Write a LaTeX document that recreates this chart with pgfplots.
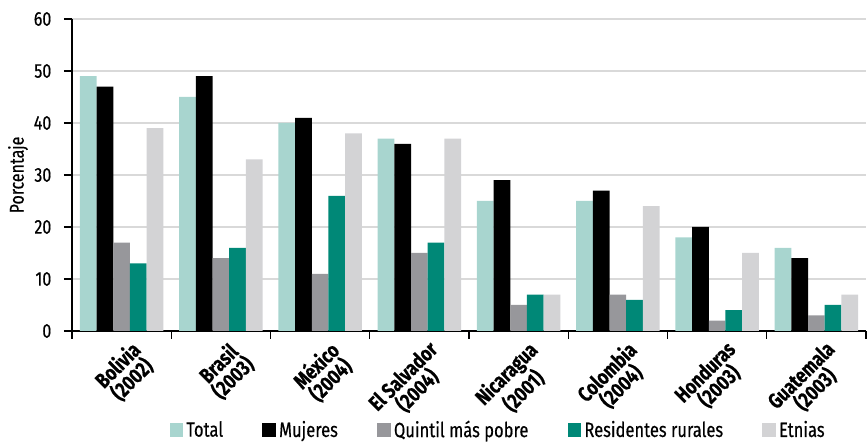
\documentclass[border=0pt]{standalone}
\usepackage{pgfplots}
\pgfplotsset{compat=1.18}
\usepackage{fontspec}
\setmainfont{Fira Sans}[FakeStretch=0.8, FakeBold=0.4]
\definecolor{cTotal}{HTML}{A8D5CF}
\definecolor{cMuj}{HTML}{000000}
\definecolor{cQui}{HTML}{97979B}
\definecolor{cRes}{HTML}{008877}
\definecolor{cEtn}{HTML}{D3D3D5}
\definecolor{cGrid}{HTML}{D9D9D9}
\begin{document}
\begin{tikzpicture}
\path[use as bounding box] (-54pt,-83.25pt) rectangle (597pt,248.25pt);
\begin{axis}[
  scale only axis,
  width=595.5pt, height=234pt,
  ybar=0pt, bar width=0.168,
  xmin=-0.5, xmax=7.5,
  ymin=0, ymax=60,
  ytick={0,10,...,60},
  xtick={0,...,7},
  minor xtick={-0.5,0.5,...,7.5},
  xticklabels={{Bolivia\\(2002)},{Brasil\\(2003)},{México\\(2004)},{El Salvador\\(2004)},{Nicaragua\\(2001)},{Colombia\\(2004)},{Honduras\\(2003)},{Guatemala\\(2003)}},
  xticklabel style={xshift=6pt, yshift=0pt, rotate=45, anchor=north east, align=center, font=\bfseries\fontsize{16}{13.5}\selectfont, inner sep=0pt},
  major x tick style={draw=none},
  minor x tick style={black, thick},
  minor tick length=6pt,
  axis lines*=left,
  axis line style={black, thick},
  ytick style={black, thick},
  tick align=outside,
  major tick length=6pt,
  ymajorgrids, grid style={cGrid, line width=1pt},
  yticklabel style={font=\fontsize{15}{15}\selectfont},
  yticklabel shift=6pt,
  /pgf/number format/assume math mode=true,
  ylabel={Porcentaje},
  every axis y label/.style={at={(rel axis cs:-0.068,0.5)}, rotate=90, anchor=center, font=\fontsize{15}{15}\selectfont},
  legend style={draw=none, at={(0.123,-0.317)}, anchor=west, legend columns=5,
    font=\fontsize{15.5}{15.5}\selectfont, inner sep=0pt, outer sep=0pt,
    nodes={inner sep=2.5pt},
    /tikz/every even column/.append style={column sep=27pt}},
  legend image code/.code={\fill[#1] (0pt,-5pt) rectangle (10pt,5.5pt);},
  clip=false,
]
\addplot[fill=cTotal, draw=none] coordinates {(0,49) (1,45) (2,40) (3,37) (4,25) (5,25) (6,18) (7,16)};
\addplot[fill=cMuj, draw=none] coordinates {(0,47) (1,49) (2,41) (3,36) (4,29) (5,27) (6,20) (7,14)};
\addplot[fill=cQui, draw=none] coordinates {(0,17) (1,14) (2,11) (3,15) (4,5) (5,7) (6,2) (7,3)};
\addplot[fill=cRes, draw=none] coordinates {(0,13) (1,16) (2,26) (3,17) (4,7) (5,6) (6,4) (7,5)};
\addplot[fill=cEtn, draw=none] coordinates {(0,39) (1,33) (2,38) (3,37) (4,7) (5,24) (6,15) (7,7)};
\legend{Total, Mujeres, Quintil más pobre, Residentes rurales, Etnias}
\end{axis}
\end{tikzpicture}
\end{document}
